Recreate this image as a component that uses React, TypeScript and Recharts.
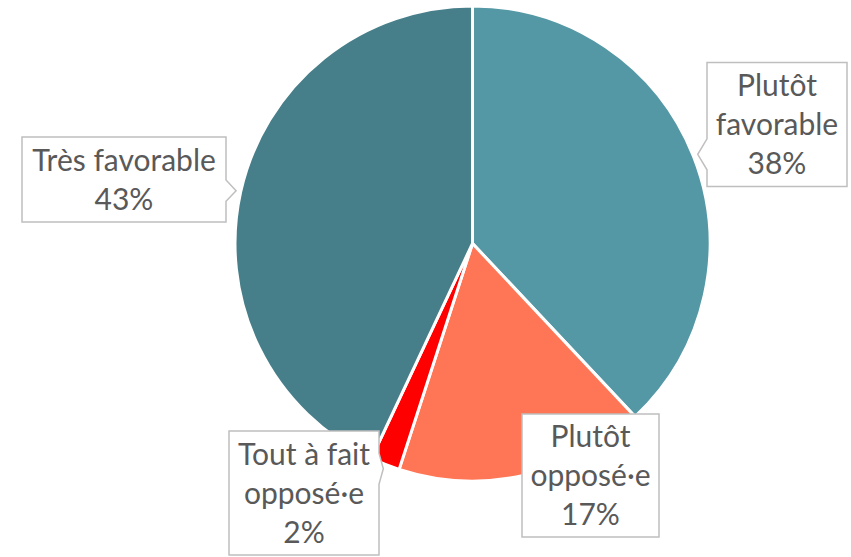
import React from 'react';
import { PieChart, Pie, Cell } from 'recharts';

const categories = ['Plutôt favorable', 'Plutôt opposé·e', 'Tout à fait opposé·e', 'Très favorable'];
const shares = [38, 17, 2, 43];
const labelLines = [['Plutôt', 'favorable'], ['Plutôt', 'opposé·e'], ['Tout à fait', 'opposé·e'], ['Très favorable']];
const colors = ['#5498A5', '#FF7656', '#FF0000', '#467E89'];

// label box layout: center offset from pie center (px) and box size
const boxLayout = [
  { dx: 304.5, dy: -119, w: 140, h: 124 },
  { dx: 118, dy: 232, w: 137, h: 123 },
  { dx: -168.5, dy: 249.5, w: 150, h: 124 },
  { dx: -348.5, dy: -64, w: 204, h: 85 },
];

const data = categories.map((name, i) => ({ name, value: shares[i] }));

const W = 851;
const H = 557;
const CX = 472.5;
const CY = 243.5;
const R = 237.5;
const LINE_H = 39;
const FONT = 'Lato, "Open Sans", sans-serif';
const FONT_SIZE = 30;
const RAD = Math.PI / 180;

function calloutPath(x0: number, y0: number, w: number, h: number, tx: number, ty: number) {
  const x1 = x0 + w;
  const y1 = y0 + h;
  const outL = x0 - tx, outR = tx - x1, outT = y0 - ty, outB = ty - y1;
  const m = Math.max(outL, outR, outT, outB);
  let side: string | null = null;
  if (m > 0) {
    if (m === outL) side = 'left';
    else if (m === outR) side = 'right';
    else if (m === outT) side = 'top';
    else side = 'bottom';
  }
  const clamp = (v: number, a: number, b: number) => Math.max(a, Math.min(b, v));
  let d = `M${x0},${y0}`;
  if (side === 'top') {
    const bw = 0.125 * w;
    const c = clamp(tx, x0 + bw, x1 - bw);
    d += ` L${c - bw},${y0} L${tx},${ty} L${c + bw},${y0}`;
  }
  d += ` L${x1},${y0}`;
  if (side === 'right') {
    const bw = 0.125 * h;
    const c = clamp(ty, y0 + bw, y1 - bw);
    d += ` L${x1},${c - bw} L${tx},${ty} L${x1},${c + bw}`;
  }
  d += ` L${x1},${y1}`;
  if (side === 'bottom') {
    const bw = 0.125 * w;
    const c = clamp(tx, x0 + bw, x1 - bw);
    d += ` L${c + bw},${y1} L${tx},${ty} L${c - bw},${y1}`;
  }
  d += ` L${x0},${y1}`;
  if (side === 'left') {
    const bw = 0.125 * h;
    const c = clamp(ty, y0 + bw, y1 - bw);
    d += ` L${x0},${c + bw} L${tx},${ty} L${x0},${c - bw}`;
  }
  d += ' Z';
  return d;
}

const renderLabel = (props: any) => {
  const { midAngle, index, value } = props;
  const cx = props.cx ?? CX;
  const cy = props.cy ?? CY;
  const outerRadius = props.outerRadius ?? R;
  const lay = boxLayout[index];
  const bx = cx + lay.dx;
  const by = cy + lay.dy;
  const x0 = bx - lay.w / 2;
  const y0 = by - lay.h / 2;
  const tr = outerRadius * 1.02;
  const tx = cx + tr * Math.cos(-midAngle * RAD);
  const ty = cy + tr * Math.sin(-midAngle * RAD);
  const lines = [...labelLines[index], `${value}%`];
  const n = lines.length;
  return (
    <g key={`lbl-${index}`}>
      <path d={calloutPath(x0, y0, lay.w, lay.h, tx, ty)} fill="#FFFFFF" stroke="#BFBFBF" strokeWidth={1.5} />
      {lines.map((t, i) => (
        <text
          key={i}
          x={bx}
          y={by + (i - (n - 1) / 2) * LINE_H + 10.5}
          textAnchor="middle"
          fill="#595959"
          fontFamily={FONT}
          fontSize={FONT_SIZE}
        >
          {t}
        </text>
      ))}
    </g>
  );
};

export default function App() {
  return (
    <div style={{ position: 'absolute', left: 0, top: 0, width: W, height: H, background: '#FFFFFF' }}>
      <PieChart width={W} height={H} margin={{ top: 0, right: 0, bottom: 0, left: 0 }}>
        <Pie
          data={data}
          dataKey="value"
          nameKey="name"
          cx={CX}
          cy={CY}
          outerRadius={R}
          startAngle={90}
          endAngle={-270}
          stroke="#FFFFFF"
          strokeWidth={3}
          label={renderLabel}
          labelLine={false}
          isAnimationActive={false}
        >
          {data.map((d, i) => (
            <Cell key={d.name} fill={colors[i]} />
          ))}
        </Pie>
      </PieChart>
    </div>
  );
}
